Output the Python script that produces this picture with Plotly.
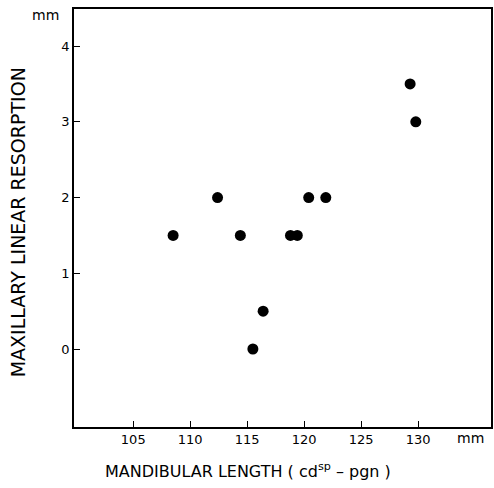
import plotly.graph_objects as go

mandibular_length = [108.5, 112.4, 114.4, 115.5, 116.4, 118.8, 119.4, 120.4, 121.9, 129.3, 129.8]
maxillary_resorption = [1.5, 2.0, 1.5, 0.0, 0.5, 1.5, 1.5, 2.0, 2.0, 3.5, 3.0]
x_ticks = [105, 110, 115, 120, 125, 130]
y_ticks = [0, 1, 2, 3, 4]

font = "DejaVu Sans, Liberation Sans, sans-serif"

fig = go.Figure(go.Scatter(
    x=mandibular_length, y=maxillary_resorption, mode="markers",
    marker=dict(color="black", size=11), showlegend=False))

axis_common = dict(ticks="inside", ticklen=6, tickwidth=1, tickcolor="black",
                   showline=True, linecolor="black", linewidth=1.5, mirror=True,
                   showgrid=False, zeroline=False, automargin=False,
                   tickfont=dict(size=13, family=font, color="black"))

fig.update_layout(
    width=494, height=488,
    margin=dict(l=74, r=3, t=9, b=61, autoexpand=False),
    plot_bgcolor="white", paper_bgcolor="white",
    font=dict(family=font, color="black", size=13),
    xaxis=dict(range=[99.8, 136.4], tickvals=x_ticks, **axis_common),
    yaxis=dict(range=[-1.03, 4.49], tickvals=y_ticks, **axis_common),
)

fig.add_annotation(text="MANDIBULAR LENGTH ( cd<sup>sp</sup> – pgn )",
                   xref="paper", yref="paper", x=0.417, y=-0.103,
                   xanchor="center", yanchor="middle", showarrow=False,
                   font=dict(size=16, family=font))
fig.add_annotation(text="MAXILLARY LINEAR RESORPTION",
                   xref="paper", yref="paper", x=-0.134, y=0.49, textangle=-90,
                   xanchor="center", yanchor="middle", showarrow=False,
                   font=dict(size=19, family=font))
fig.add_annotation(text="mm", xref="paper", yref="paper", x=-0.0695, y=0.986,
                   xanchor="center", yanchor="middle", showarrow=False,
                   font=dict(size=14, family=font))
fig.add_annotation(text="mm", xref="paper", yref="paper", x=0.95, y=-0.026,
                   xanchor="center", yanchor="middle", showarrow=False,
                   font=dict(size=14, family=font))

fig.write_html("out.html", config={"displayModeBar": False},
               post_script="document.body.style.margin='0';document.body.style.overflow='hidden';")
